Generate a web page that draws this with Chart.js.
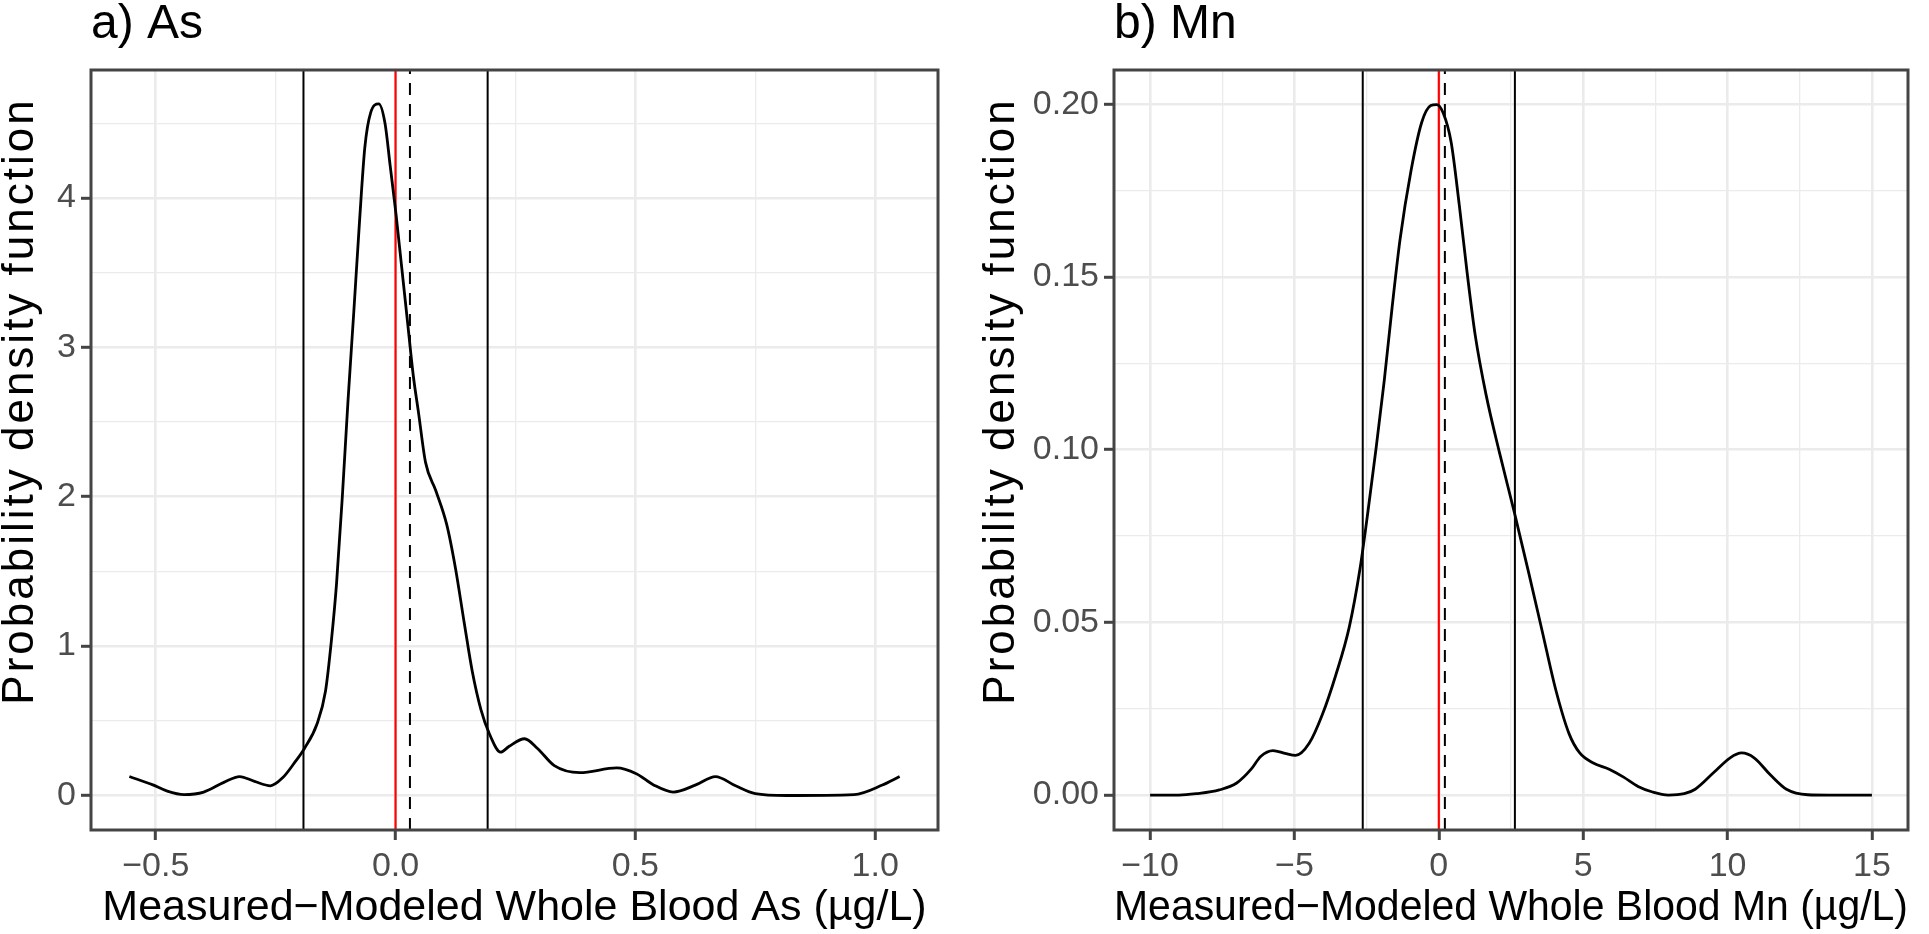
<!DOCTYPE html>
<html>
<head>
<meta charset="utf-8">
<script src="https://cdn.jsdelivr.net/npm/chart.js@4.4.0/dist/chart.umd.min.js"></script>
<style>
  body { margin: 0; background: #fff; }
  #wrap { position: relative; width: 1929px; height: 934px; }
  .panel { position: absolute; top: 0; }
</style>
</head>
<body>
<div id="wrap">
  <div class="panel" style="left:0"><canvas id="asChart" width="960" height="934"></canvas></div>
  <div class="panel" style="left:960px"><canvas id="mnChart" width="969" height="934"></canvas></div>
</div>
<script>
// a) As - density of measured minus modeled
const asX = [-0.555, -0.506, -0.476, -0.441, -0.40, -0.358, -0.325, -0.294, -0.261, -0.235, -0.211, -0.19,
  -0.164, -0.146, -0.134, -0.123, -0.111, -0.099, -0.087, -0.075, -0.064, -0.052, -0.035, -0.022, -0.011,
  0.001, 0.013, 0.025, 0.037, 0.048, 0.0625, 0.084, 0.107, 0.125, 0.143, 0.16, 0.178, 0.196, 0.219, 0.237,
  0.269, 0.296, 0.331, 0.384, 0.461, 0.502, 0.538, 0.579, 0.626, 0.667, 0.709, 0.75, 0.815, 0.956, 1.015, 1.051];
const asY = [0.127, 0.071, 0.029, 0.006, 0.023, 0.088, 0.127, 0.094, 0.065, 0.12, 0.218, 0.315,
  0.477, 0.70, 1.03, 1.42, 2.0, 2.65, 3.24, 3.85, 4.34, 4.57, 4.63, 4.50, 4.21,
  3.89, 3.53, 3.17, 2.81, 2.56, 2.23, 2.04, 1.81, 1.52, 1.16, 0.83, 0.575, 0.41, 0.29, 0.33,
  0.38, 0.315, 0.20, 0.153, 0.185, 0.146, 0.071, 0.023, 0.071, 0.127, 0.065, 0.013, 0.0, 0.006, 0.07, 0.127];
const asLimits = [-0.192, 0.192];
const asMean = 0.03;
const asXTicks = [-0.5, 0, 0.5, 1.0];
const asYTicks = [0, 1, 2, 3, 4];

// b) Mn
const mnX = [-10, -9, -8.4, -7.6, -7.0, -6.5, -6.17, -5.74, -5.33, -4.96, -4.49, -4.03, -3.57, -3.10, -2.73,
  -2.45, -2.17, -1.89, -1.62, -1.34, -0.966, -0.594, -0.279, -0.074, 0.149, 0.427, 0.706, 0.984, 1.263,
  1.634, 2.099, 2.62, 3.12, 3.585, 4.05, 4.51, 4.88, 5.35, 5.9, 6.4, 6.9, 7.4, 7.95, 8.5, 8.88, 9.53,
  10.09, 10.49, 10.92, 11.48, 12.04, 12.78, 13.5, 15];
const mnY = [0, 0, 0.0004, 0.0015, 0.0035, 0.0075, 0.0112, 0.0129, 0.0121, 0.0115, 0.015, 0.0234, 0.0347, 0.0487, 0.0655,
  0.0824, 0.1006, 0.120, 0.141, 0.161, 0.1806, 0.1947, 0.1996, 0.1999, 0.1975, 0.189, 0.171, 0.151, 0.133,
  0.116, 0.0992, 0.0817, 0.0641, 0.0473, 0.0305, 0.0178, 0.0122, 0.0093, 0.0075, 0.0052, 0.0025, 0.0009, 0, 0.0004, 0.0017, 0.0066,
  0.0108, 0.0122, 0.0108, 0.0059, 0.0017, 0.0001, 0, 0];
const mnLimits = [-2.635, 2.635];
const mnMean = 0.21;
const mnXTicks = [-10, -5, 0, 5, 10, 15];
const mnYTicks = [0, 0.05, 0.10, 0.15, 0.20];

const FONT = '"Liberation Sans", Arial, Helvetica, sans-serif';
const Y_TITLE = 'Probability density function';

// major ticks plus the minor lines halfway between them
function gridValues(major, min, max) {
  const step = major[1] - major[0];
  const vals = [];
  major.forEach(m => vals.push(m - step / 2, m));
  vals.push(major[major.length - 1] + step / 2);
  return vals.filter(v => v >= min && v <= max);
}

function axis({min, max, major, fmt, title, size, horizontal}) {
  const step = major[1] - major[0];
  const isMajor = v => major.some(m => Math.abs(m - v) < step * 1e-6);
  return {
    type: 'linear', min, max,
    afterBuildTicks: s => { s.ticks = gridValues(major, min, max).map(v => ({value: v})); },
    afterFit: s => { if (horizontal) s.height = size; else s.width = size; },
    border: { display: false },
    grid: {
      color: '#EBEBEB',
      lineWidth: c => (c.tick && isMajor(c.tick.value)) ? 2.6 : 1.3,
      tickLength: 10,
      tickWidth: 3,
      tickColor: c => (c.tick && isMajor(c.tick.value)) ? '#444444' : 'rgba(0,0,0,0)'
    },
    ticks: {
      autoSkip: false, maxRotation: 0,
      padding: horizontal ? 6 : 5,
      color: '#4D4D4D',
      font: { family: FONT, size: 34 },
      callback: v => isMajor(v) ? fmt(v) : ''
    },
    title: {
      display: !!title, text: title, color: '#000',
      font: { family: FONT, size: 43, lineHeight: 1.2 },
      padding: { top: 0, bottom: 0 }
    }
  };
}

// panel border, panel tag and the y-axis title
const panelFrame = {
  id: 'panelFrame',
  afterDraw(chart, args, o) {
    const {ctx, chartArea: a} = chart;
    ctx.save();
    ctx.strokeStyle = '#444444';
    ctx.lineWidth = 3;
    ctx.strokeRect(a.left, a.top, a.right - a.left, a.bottom - a.top);
    ctx.fillStyle = '#000';
    ctx.font = '48px ' + FONT;
    ctx.textAlign = 'left';
    ctx.textBaseline = 'alphabetic';
    ctx.fillText(o.tag, a.left, 38);
    ctx.translate(o.yTitleX, 401);
    ctx.rotate(-Math.PI / 2);
    ctx.font = '44px ' + FONT;
    ctx.letterSpacing = '3px';
    ctx.textAlign = 'center';
    ctx.fillText(Y_TITLE, 0, 0);
    ctx.restore();
  }
};

const minus = v => String(v).replace('-', '\u2212');

function vline(x, yMin, yMax, color, dash, width) {
  return {
    data: [{x, y: yMin}, {x, y: yMax}],
    borderColor: color, borderWidth: width, borderDash: dash,
    pointRadius: 0, tension: 0
  };
}

function makeChart(id, tag, xs, ys, limits, mean, xr, yr, xTicks, yTicks, xFmt, yFmt, xTitle, yWidth, rightPad, yTitleX) {
  new Chart(document.getElementById(id), {
    type: 'line',
    data: {
      datasets: [
        {
          data: xs.map((x, i) => ({x, y: ys[i]})),
          borderColor: '#000', borderWidth: 2.8,
          pointRadius: 0, cubicInterpolationMode: 'monotone'
        },
        vline(limits[0], yr[0], yr[1], '#000', [], 2),
        vline(limits[1], yr[0], yr[1], '#000', [], 2),
        vline(0, yr[0], yr[1], '#FF0000', [], 2.2),
        vline(mean, yr[0], yr[1], '#000', [12, 9], 2)
      ]
    },
    options: {
      responsive: false,
      animation: false,
      devicePixelRatio: 1,
      layout: { padding: { top: 70, right: rightPad, bottom: 0, left: 0 } },
      plugins: {
        legend: { display: false },
        tooltip: { enabled: false },
        panelFrame: { tag, yTitleX }
      },
      scales: {
        x: axis({min: xr[0], max: xr[1], major: xTicks, fmt: xFmt, title: xTitle, size: 104, horizontal: true}),
        y: axis({min: yr[0], max: yr[1], major: yTicks, fmt: yFmt, title: '', size: yWidth, horizontal: false})
      }
    },
    plugins: [panelFrame]
  });
}

makeChart('asChart', 'a) As', asX, asY, asLimits, asMean, [-0.635, 1.131], [-0.231, 4.857],
  asXTicks, asYTicks, v => minus(v.toFixed(1)), v => String(v),
  'Measured\u2212Modeled Whole Blood As (\u00b5g/L)', 91, 22, 33);

makeChart('mnChart', 'b) Mn', mnX, mnY, mnLimits, mnMean, [-11.25, 16.25], [-0.0101, 0.2099],
  mnXTicks, mnYTicks, v => minus(String(v)), v => v.toFixed(2),
  'Measured\u2212Modeled Whole Blood Mn (\u00b5g/L)', 154, 21, 54);
</script>
</body>
</html>
